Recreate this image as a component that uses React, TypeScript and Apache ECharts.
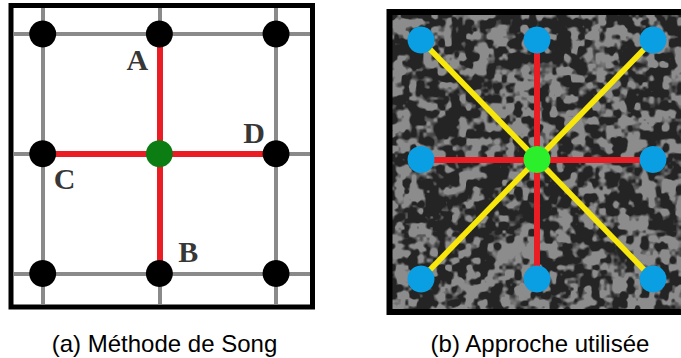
import React, { useEffect, useRef } from "react";
import * as echarts from "echarts";

// ---- data ----
const latticeIdx = [0, 1, 2];
const songNodes: [number, number][] = [
  [0, 0], [1, 0], [2, 0],
  [0, 1], [2, 1],
  [0, 2], [1, 2], [2, 2],
];
const songCenter: [number, number][] = [[1, 1]];
const songArms: [number, number][][] = [
  [[1, 0], [1, 2]],
  [[0, 1], [2, 1]],
];
const songLabelNames = ["A", "B", "C", "D"];
const songLabelNodes: [number, number][] = [[1, 0], [1, 2], [0, 1], [2, 1]];

const oursNodes: [number, number][] = [
  [0, 0], [1, 0], [2, 0],
  [0, 1], [2, 1],
  [0, 2], [1, 2], [2, 2],
];
const oursCenter: [number, number][] = [[1, 1]];
const oursStraightEnds: [number, number][] = [[1, 0], [1, 2], [0, 1], [2, 1]];
const oursDiagonalEnds: [number, number][] = [[0, 0], [2, 0], [0, 2], [2, 2]];

const captions = ["(a) Méthode de Song", "(b) Approche utilisée"];

// ---- styles / layout (not data) ----
const labelOffsets: Record<string, [number, number]> = {
  A: [-22, 26],
  B: [29, -22],
  C: [22, 25],
  D: [-22, -21],
};
const leftRange = { xMin: -0.246, xMax: 2.291, yMin: -0.217, yMax: 2.255 };

function makeTexture(w: number, h: number): string {
  const c = document.createElement("canvas");
  c.width = w;
  c.height = h;
  const ctx = c.getContext("2d");
  if (!ctx) return "";
  const img = ctx.createImageData(w, h);
  const hash = (ix: number, iy: number) => {
    let n = (Math.imul(ix, 374761393) + Math.imul(iy, 668265263)) | 0;
    n = Math.imul(n ^ (n >>> 13), 1274126177);
    n ^= n >>> 16;
    return (n >>> 0) / 4294967295;
  };
  const noise = (x: number, y: number) => {
    const ix = Math.floor(x), iy = Math.floor(y);
    const fx = x - ix, fy = y - iy;
    const sx = fx * fx * (3 - 2 * fx), sy = fy * fy * (3 - 2 * fy);
    const a = hash(ix, iy), b = hash(ix + 1, iy), cc = hash(ix, iy + 1), d = hash(ix + 1, iy + 1);
    return a + (b - a) * sx + (cc - a) * sy + (a - b - cc + d) * sx * sy;
  };
  for (let y = 0; y < h; y++) {
    for (let x = 0; x < w; x++) {
      const v = 0.72 * noise(x / 7, y / 7) + 0.28 * noise(x / 3.6 + 17, y / 3.6 + 31);
      let t = (v - 0.53) * 5 + 0.5;
      t = Math.max(0, Math.min(1, t));
      const col = Math.round(36 + t * (140 - 36));
      const i = (y * w + x) * 4;
      img.data[i] = col;
      img.data[i + 1] = col;
      img.data[i + 2] = col;
      img.data[i + 3] = 255;
    }
  }
  ctx.putImageData(img, 0, 0);
  return c.toDataURL();
}

export default function App() {
  const ref = useRef<HTMLDivElement>(null);
  useEffect(() => {
    if (!ref.current) return;
    const chart = echarts.init(ref.current, undefined, { renderer: "svg" });
    const texture = makeTexture(290, 295);

    const lineStyle = (color: string, width: number) => ({ color, width, opacity: 1, curveness: 0 });
    const captionStyle = (text: string) => ({
      text,
      fontFamily: "Liberation Sans",
      fontSize: 24,
      fill: "#000",
      align: "center",
      verticalAlign: "middle",
    });

    const option: any = {
      animation: false,
      backgroundColor: "#ffffff",
      grid: [
        { left: 14, top: 8, width: 296, height: 296 },
        { left: 421, top: 40, width: 232, height: 239 },
      ],
      xAxis: [
        { gridIndex: 0, type: "value", min: leftRange.xMin, max: leftRange.xMax, show: false },
        { gridIndex: 1, type: "value", min: 0, max: 2, show: false },
      ],
      yAxis: [
        { gridIndex: 0, type: "value", inverse: true, min: leftRange.yMin, max: leftRange.yMax, show: false },
        { gridIndex: 1, type: "value", inverse: true, min: 0, max: 2, show: false },
      ],
      graphic: [
        {
          type: "image",
          z: 0,
          silent: true,
          style: { image: texture, x: 392, y: 15, width: 290, height: 295 },
        },
        {
          type: "rect",
          z: 100,
          silent: true,
          shape: { x: 11, y: 5.5, width: 301.5, height: 301.5 },
          style: { fill: "none", stroke: "#000", lineWidth: 5 },
        },
        {
          type: "rect",
          z: 100,
          silent: true,
          shape: { x: 389.5, y: 12, width: 310, height: 300 },
          style: { fill: "none", stroke: "#000", lineWidth: 6 },
        },
        { type: "text", z: 100, x: 164.5, y: 343, style: captionStyle(captions[0]) },
        { type: "text", z: 100, x: 540, y: 343, style: captionStyle(captions[1]) },
      ],
      series: [
        {
          type: "lines",
          coordinateSystem: "cartesian2d",
          xAxisIndex: 0,
          yAxisIndex: 0,
          silent: true,
          z: 2,
          lineStyle: lineStyle("#8a8a8a", 4),
          data: latticeIdx.flatMap((i) => [
            { coords: [[i, leftRange.yMin], [i, leftRange.yMax]] },
            { coords: [[leftRange.xMin, i], [leftRange.xMax, i]] },
          ]),
        },
        {
          type: "lines",
          coordinateSystem: "cartesian2d",
          xAxisIndex: 0,
          yAxisIndex: 0,
          silent: true,
          z: 3,
          lineStyle: lineStyle("#ea1d25", 6),
          data: songArms.map((c) => ({ coords: c })),
        },
        {
          type: "scatter",
          xAxisIndex: 0,
          yAxisIndex: 0,
          z: 4,
          symbolSize: 27,
          itemStyle: { color: "#000", opacity: 1 },
          data: songNodes,
        },
        {
          type: "scatter",
          xAxisIndex: 0,
          yAxisIndex: 0,
          z: 4,
          symbolSize: 27,
          itemStyle: { color: "#0b7d12", opacity: 1 },
          data: songCenter,
        },
        {
          type: "scatter",
          xAxisIndex: 0,
          yAxisIndex: 0,
          z: 5,
          symbolSize: 0,
          silent: true,
          data: songLabelNames.map((n, i) => ({
            name: n,
            value: songLabelNodes[i],
            label: { offset: labelOffsets[n] },
          })),
          label: {
            show: true,
            position: "inside",
            formatter: (p: any) => p.name,
            fontFamily: "Liberation Serif",
            fontWeight: "bold",
            fontSize: 30,
            color: "#000",
          },
        },
        {
          type: "lines",
          coordinateSystem: "cartesian2d",
          xAxisIndex: 1,
          yAxisIndex: 1,
          silent: true,
          z: 3,
          lineStyle: lineStyle("#f7e70b", 5.5),
          data: oursDiagonalEnds.map((e) => ({ coords: [oursCenter[0], e] })),
        },
        {
          type: "lines",
          coordinateSystem: "cartesian2d",
          xAxisIndex: 1,
          yAxisIndex: 1,
          silent: true,
          z: 3,
          lineStyle: lineStyle("#ea1d25", 6),
          data: oursStraightEnds.map((e) => ({ coords: [oursCenter[0], e] })),
        },
        {
          type: "scatter",
          xAxisIndex: 1,
          yAxisIndex: 1,
          z: 4,
          symbolSize: 27,
          itemStyle: { color: "#0a9ee2", opacity: 1 },
          data: oursNodes,
        },
        {
          type: "scatter",
          xAxisIndex: 1,
          yAxisIndex: 1,
          z: 4,
          symbolSize: 27,
          itemStyle: { color: "#2cef2c", opacity: 1 },
          data: oursCenter,
        },
      ],
    };
    chart.setOption(option);
    return () => chart.dispose();
  }, []);

  return (
    <div
      ref={ref}
      style={{ position: "fixed", left: 0, top: 0, width: 681, height: 358 }}
    />
  );
}
